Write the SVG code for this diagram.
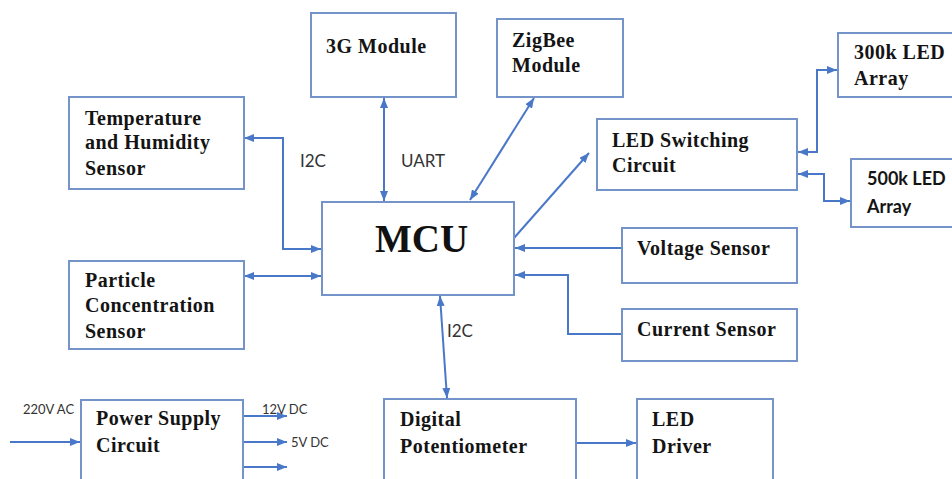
<svg xmlns="http://www.w3.org/2000/svg" width="952" height="479" viewBox="0 0 952 479">
<defs>
<marker id="ah" viewBox="0 0 10 8" refX="10" refY="4" markerWidth="10" markerHeight="8" markerUnits="userSpaceOnUse" orient="auto-start-reverse">
<path d="M0,0 L10,4 L0,8 z" fill="#4a78c8"/>
</marker>
<style>
.box{fill:#fff;stroke:#7393c9;stroke-width:2}
.t{font-family:"Liberation Serif","Times New Roman",serif;font-weight:bold;font-size:20px;letter-spacing:0.5px;fill:#141414}
.s{font-family:Lato,"Liberation Sans",sans-serif;font-weight:bold;font-size:18px;fill:#141414}
.lbl{font-family:Lato,"Liberation Sans",sans-serif;font-size:17px;fill:#333}
.sm{font-family:Lato,"Liberation Sans",sans-serif;font-size:13px;fill:#333}
.c{fill:none;stroke:#4a78c8;stroke-width:2}
</style>
</defs>
<rect width="952" height="479" fill="#fff"/>
<g id="connectors">
<path class="c" d="M244,138 H283 V249 H321" marker-start="url(#ah)" marker-end="url(#ah)"/>
<path class="c" d="M244,276 H321" marker-start="url(#ah)" marker-end="url(#ah)"/>
<path class="c" d="M384,98 V201" marker-start="url(#ah)" marker-end="url(#ah)"/>
<path class="c" d="M534,98 L470,200" marker-start="url(#ah)" marker-end="url(#ah)"/>
<path class="c" d="M514,238 L589,153" marker-end="url(#ah)"/>
<path class="c" d="M622,248 H515" marker-end="url(#ah)"/>
<path class="c" d="M622,334 H568 V275 H515" marker-end="url(#ah)"/>
<path class="c" d="M440,296 L447,398" marker-start="url(#ah)" marker-end="url(#ah)"/>
<path class="c" d="M577,443 H636" marker-end="url(#ah)"/>
<path class="c" d="M798,152 H817 V70 H837" marker-start="url(#ah)" marker-end="url(#ah)"/>
<path class="c" d="M798,174 H824 V201 H850" marker-start="url(#ah)" marker-end="url(#ah)"/>
<path class="c" d="M10,442 H80" marker-end="url(#ah)"/>
<path class="c" d="M244,416 H287" marker-end="url(#ah)"/>
<path class="c" d="M244,442 H287" marker-end="url(#ah)"/>
<path class="c" d="M244,467 H287" marker-end="url(#ah)"/>
<text class="lbl" x="300" y="167">I2C</text>
<text class="lbl" x="401" y="167">UART</text>
<text class="lbl" x="447" y="337">I2C</text>
<text class="sm" x="23" y="414">220V AC</text>
<text class="sm" x="262" y="414">12V DC</text>
<text class="sm" x="291" y="447">5V DC</text>
</g>
<g id="mcu">
<rect class="box" x="322" y="202" width="192" height="93"/>
<text x="375" y="252" style="font-family:'Liberation Serif','Times New Roman',serif;font-weight:bold;font-size:39px;fill:#111">MCU</text>
</g>
<g id="module3g">
<rect class="box" x="311" y="13" width="145" height="84"/>
<text class="t" x="326" y="53">3G Module</text>
</g>
<g id="zigbee">
<rect class="box" x="497" y="19" width="126" height="78"/>
<text class="t" x="512" y="47">ZigBee</text>
<text class="t" x="512" y="72">Module</text>
</g>
<g id="temp">
<rect class="box" x="69" y="97" width="175" height="92"/>
<text class="t" x="85" y="125">Temperature</text>
<text class="t" x="85" y="149">and Humidity</text>
<text class="t" x="85" y="175">Sensor</text>
</g>
<g id="particle">
<rect class="box" x="69" y="261" width="175" height="88"/>
<text class="t" x="85" y="287">Particle</text>
<text class="t" x="85" y="312">Concentration</text>
<text class="t" x="85" y="338">Sensor</text>
</g>
<g id="ledswitch">
<rect class="box" x="597" y="119" width="200" height="71"/>
<text class="t" x="612" y="147">LED Switching</text>
<text class="t" x="612" y="172">Circuit</text>
</g>
<g id="led300k">
<rect class="box" x="838" y="33" width="130" height="64"/>
<text class="t" x="854" y="59">300k LED</text>
<text class="t" x="854" y="85">Array</text>
</g>
<g id="led500k">
<rect class="box" x="851" y="159" width="120" height="68"/>
<text class="s" x="867" y="185">500k LED</text>
<text class="s" x="867" y="213">Array</text>
</g>
<g id="voltage">
<rect class="box" x="622" y="228" width="175" height="55"/>
<text class="t" x="637" y="255">Voltage Sensor</text>
</g>
<g id="current">
<rect class="box" x="622" y="309" width="175" height="52"/>
<text class="t" x="637" y="336">Current Sensor</text>
</g>
<g id="digipot">
<rect class="box" x="384" y="399" width="192" height="100"/>
<text class="t" x="400" y="426">Digital</text>
<text class="t" x="400" y="453">Potentiometer</text>
</g>
<g id="leddriver">
<rect class="box" x="637" y="399" width="136" height="100"/>
<text class="t" x="652" y="426">LED</text>
<text class="t" x="652" y="453">Driver</text>
</g>
<g id="power">
<rect class="box" x="81" y="400" width="162" height="100"/>
<text class="t" x="96" y="425">Power Supply</text>
<text class="t" x="96" y="452">Circuit</text>
</g>
</svg>
